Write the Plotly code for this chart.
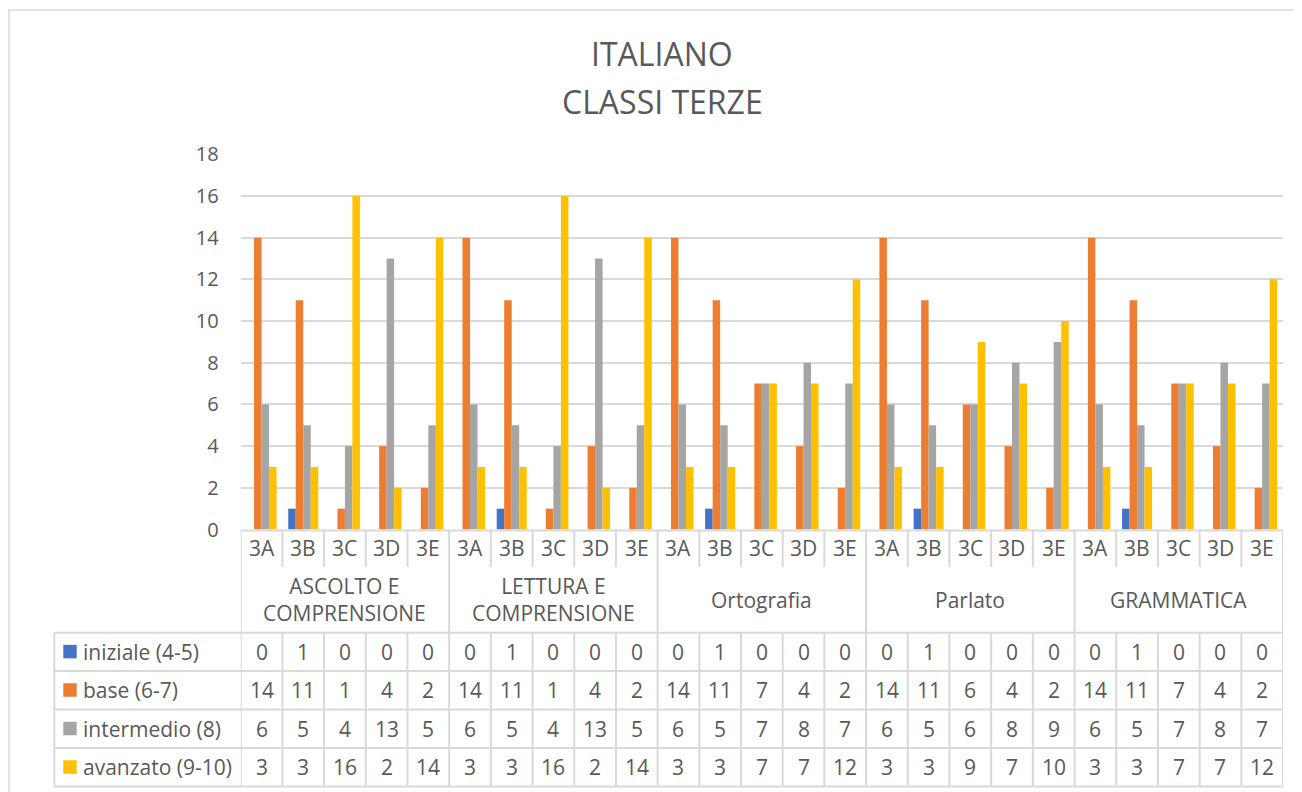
import plotly.graph_objects as go

W, H = 1302, 792
OFF = 8  # the page puts the figure 8px in from the top-left corner

classi = ["3A", "3B", "3C", "3D", "3E"]
gruppi = ["ASCOLTO E<br>COMPRENSIONE", "LETTURA E<br>COMPRENSIONE", "Ortografia", "Parlato", "GRAMMATICA"]

iniziale = [0, 1, 0, 0, 0, 0, 1, 0, 0, 0, 0, 1, 0, 0, 0, 0, 1, 0, 0, 0, 0, 1, 0, 0, 0]
base = [14, 11, 1, 4, 2, 14, 11, 1, 4, 2, 14, 11, 7, 4, 2, 14, 11, 6, 4, 2, 14, 11, 7, 4, 2]
intermedio = [6, 5, 4, 13, 5, 6, 5, 4, 13, 5, 6, 5, 7, 8, 7, 6, 5, 6, 8, 9, 6, 5, 7, 8, 7]
avanzato = [3, 3, 16, 2, 14, 3, 3, 16, 2, 14, 3, 3, 7, 7, 12, 3, 3, 9, 7, 10, 3, 3, 7, 7, 12]

serie = [
    ("iniziale (4-5)", iniziale, "#4472C4"),
    ("base (6-7)", base, "#ED7D31"),
    ("intermedio (8)", intermedio, "#A5A5A5"),
    ("avanzato (9-10)", avanzato, "#FFC000"),
]

TXT = "#595959"
LINE = "#D9D9D9"
FONT = "Open Sans"


def px_x(p):
    return (p - OFF) / W


def px_y(p):
    return 1 - (p - OFF) / H


# pixel layout of the plot area and the data table below it
plot_l, plot_r = 240.7, 1283
plot_top, plot_bot = 154.3, 529.5
tab_l = 54.3
class_bot = 567
group_bot = 632.7
row_lines = [632.7, 671, 709.5, 748, 786.5]

n = len(base)
xs = list(range(n))

fig = go.Figure()
for name, vals, col in serie:
    fig.add_trace(go.Bar(x=xs, y=vals, name=name, marker=dict(color=col, line=dict(width=0))))

shapes = []
annotations = []


def label(x, y, text, xref="x", size=21, xanchor="center"):
    annotations.append(dict(x=x, y=y, xref=xref, yref="paper", text=text, showarrow=False,
                            xanchor=xanchor, yanchor="middle", font=dict(size=size, color=TXT)))


def vline(x, y0, y1, xref="x"):
    shapes.append(dict(type="line", xref=xref, yref="paper", x0=x, x1=x, y0=px_y(y0), y1=px_y(y1),
                       line=dict(color=LINE, width=2)))


# chart frame
shapes.append(dict(type="rect", xref="paper", yref="paper",
                   x0=px_x(9), x1=px_x(1320), y0=px_y(10), y1=px_y(810),
                   line=dict(color=LINE, width=1.5)))

# top line of the category axis
shapes.append(dict(type="line", xref="x", yref="paper", x0=-0.5, x1=n - 0.5,
                   y0=px_y(plot_bot + 1), y1=px_y(plot_bot + 1), line=dict(color=LINE, width=2)))

# vertical separators: full height at group borders, broken at the group-name row otherwise
for k in range(n + 1):
    if k % 5 == 0:
        vline(k - 0.5, plot_bot, row_lines[-1])
    else:
        vline(k - 0.5, plot_bot, class_bot)
        vline(k - 0.5, group_bot, row_lines[-1])

vline(px_x(tab_l), row_lines[0], row_lines[-1], xref="paper")

# horizontal table lines
for yp in row_lines:
    shapes.append(dict(type="line", xref="paper", yref="paper", x0=px_x(tab_l), x1=px_x(plot_r),
                       y0=px_y(yp), y1=px_y(yp), line=dict(color=LINE, width=2)))

# class labels
for i in xs:
    label(i, px_y((plot_bot + class_bot) / 2), classi[i % 5])

# group labels
for g, lab in enumerate(gruppi):
    label(g * 5 + 2, px_y((class_bot + group_bot) / 2), lab)

# table rows
for r, (name, vals, col) in enumerate(serie):
    yc = (row_lines[r] + row_lines[r + 1]) / 2
    shapes.append(dict(type="rect", xref="paper", yref="paper",
                       x0=px_x(63.3), x1=px_x(76.7), y0=px_y(yc - 7), y1=px_y(yc + 6.5),
                       fillcolor=col, line=dict(width=0)))
    label(px_x(81), px_y(yc), name, xref="paper", xanchor="left")
    for i, v in enumerate(vals):
        label(i, px_y(yc), str(v))

# title
label(px_x(662), px_y(54), "ITALIANO", xref="paper", size=32)
label(px_x(662), px_y(101), "CLASSI TERZE", xref="paper", size=32)

fig.update_layout(
    width=W, height=H,
    margin=dict(l=0, r=0, t=0, b=0, pad=0),
    paper_bgcolor="white", plot_bgcolor="white",
    font=dict(family=FONT, color=TXT),
    barmode="group", bargap=0.28, bargroupgap=0,
    showlegend=False,
    shapes=shapes,
    annotations=annotations,
)
fig.update_xaxes(domain=[px_x(plot_l), px_x(plot_r)], range=[-0.5, n - 0.5],
                 showticklabels=False, showgrid=False, zeroline=False, showline=False, automargin=False)
fig.update_yaxes(domain=[px_y(plot_bot), px_y(plot_top)], range=[0, 18], dtick=2,
                 showgrid=True, gridcolor=LINE, gridwidth=1.5, zeroline=False, showline=False,
                 tickfont=dict(size=20, color=TXT), ticklabelstandoff=21, automargin=False)

fig.write_html("out.html")
